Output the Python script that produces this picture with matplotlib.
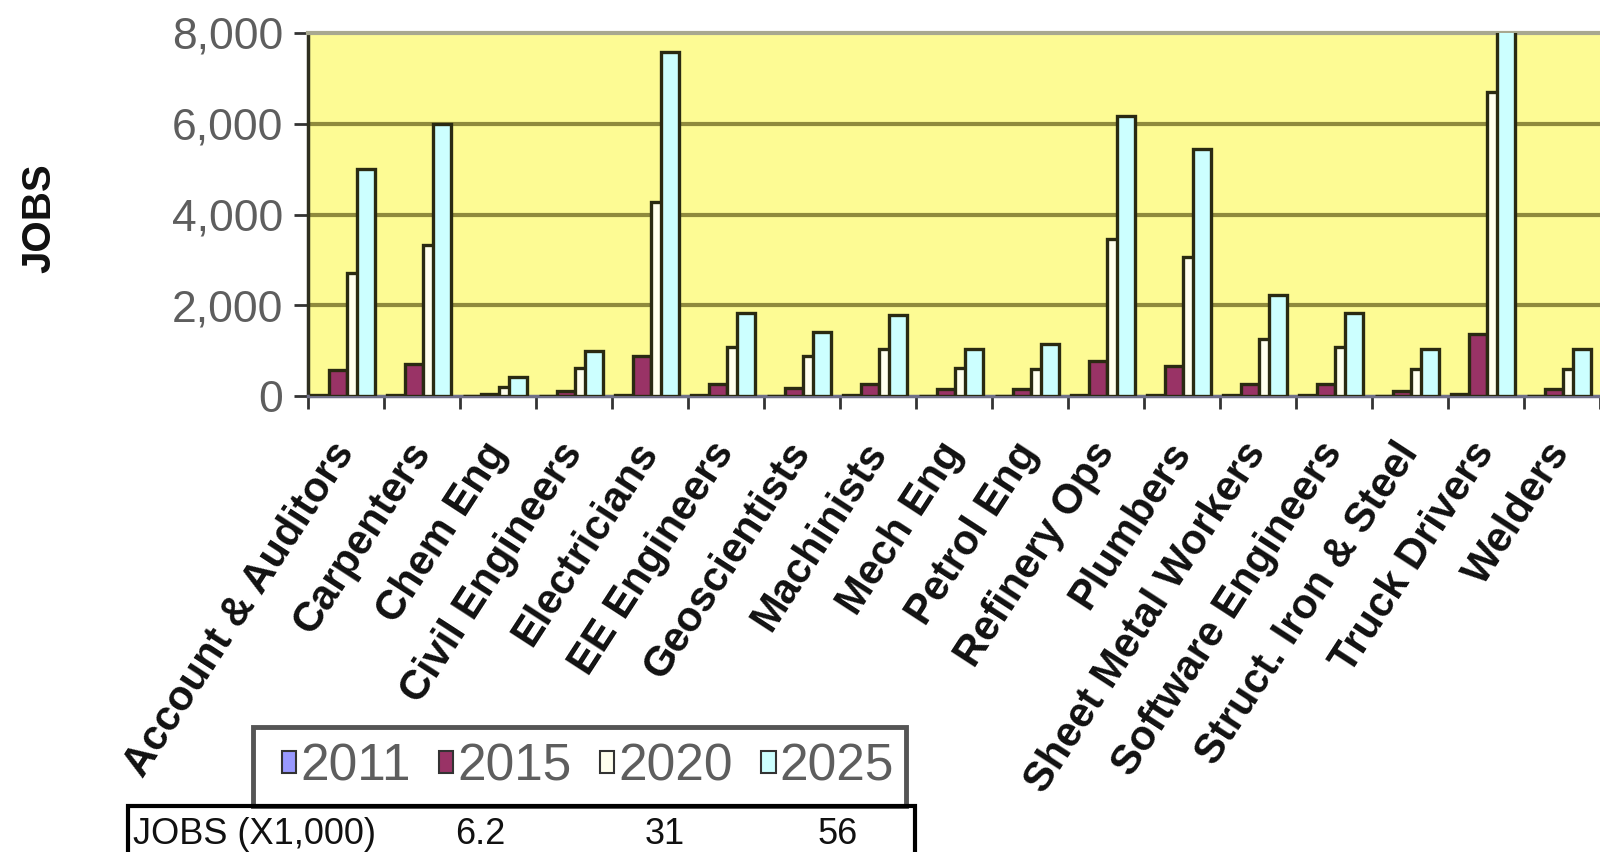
import numpy as np
import matplotlib
matplotlib.use('Agg')
import matplotlib.pyplot as plt
from matplotlib.patches import Patch, Rectangle

plt.rcParams['font.family'] = ['Liberation Sans', 'DejaVu Sans']

categories = ['Account & Auditors', 'Carpenters', 'Chem Eng', 'Civil Engineers',
              'Electricians', 'EE Engineers', 'Geoscientists', 'Machinists',
              'Mech Eng', 'Petrol Eng', 'Refinery Ops', 'Plumbers',
              'Sheet Metal Workers', 'Software Engineers', 'Struct. Iron & Steel',
              'Truck Drivers', 'Welders']
jobs_2011 = [20, 25, 10, 10, 30, 15, 10, 15, 10, 10, 25, 20, 15, 15, 10, 40, 10]
jobs_2015 = [580, 700, 50, 110, 880, 260, 180, 260, 150, 150, 770, 660, 260, 260, 110, 1370, 150]
jobs_2020 = [2720, 3320, 200, 620, 4270, 1070, 880, 1040, 620, 600, 3470, 3060, 1260, 1070, 600, 6700, 600]
jobs_2025 = [5010, 6000, 410, 1000, 7580, 1840, 1400, 1780, 1040, 1150, 6160, 5450, 2220, 1820, 1040, 11600, 1040]
years = ['2011', '2015', '2020', '2025']
colors = ['#9999ff', '#993366', '#ffffee', '#ccffff']
yticks = [0, 2000, 4000, 6000, 8000]

table_label = 'JOBS (X1,000)'
table_values = ['6.2', '31', '56']

fig = plt.figure(figsize=(16, 8.52), dpi=100)
ax = fig.add_axes([308 / 1600, 1 - 396 / 852, 1 - 308 / 1600, (396 - 33) / 852])
ax.set_facecolor('#fdfb94')

x = np.arange(len(categories))
w = 0.235
offsets = [0.16, 0.395, 0.63, 0.76]
series = [jobs_2011, jobs_2015, jobs_2020, jobs_2025]
for i, (vals, col, off) in enumerate(zip(series, colors, offsets)):
    ax.bar(x + off, vals, width=w, align='center', color=col,
           edgecolor='#2a2a12', linewidth=2.4, zorder=3 + i)

ax.set_xlim(0, len(categories))
ax.set_ylim(0, 8000)
ax.set_yticks(yticks)
ax.set_yticklabels([f'{v:,}' for v in yticks], fontsize=32, color='#5e5e5e')
ax.tick_params(axis='y', length=10, width=2, color='#333333', pad=8)
for v in yticks[1:-1]:
    ax.axhline(v, color='#8f8a3c', linewidth=3, zorder=1)

ax.set_xticks(x + 0.5)
ax.set_xticklabels(categories, rotation=57, ha='right', va='center',
                   rotation_mode='anchor', fontsize=30, fontweight='bold', color='#111111')
ax.tick_params(axis='x', length=0, pad=36)
ax.set_xticks(np.arange(len(categories) + 1), minor=True)
ax.tick_params(axis='x', which='minor', length=9, width=2, color='#333333')

ax.spines['left'].set_color('#2f2f1f')
ax.spines['left'].set_linewidth(2.5)
ax.spines['bottom'].set_color('#707088')
ax.spines['bottom'].set_linewidth(2.5)
ax.spines['top'].set_color('#a8a890')
ax.spines['top'].set_linewidth(3)
ax.spines['right'].set_visible(False)

fig.text(39 / 1600, 1 - 218 / 852, 'JOBS', rotation=90, ha='center', va='center',
         fontsize=29, fontweight='bold', color='#111111')

# legend box
fig.patches.append(Rectangle((253 / 1600, 1 - 806 / 852), (906 - 253) / 1600, 79 / 852,
                             transform=fig.transFigure, facecolor='white',
                             edgecolor='#555555', linewidth=3.5))
handles = [Patch(facecolor=c, edgecolor='#333333', linewidth=1.5) for c in colors]
leg = fig.legend(handles, years, loc='center', ncol=4,
                 bbox_to_anchor=(588 / 1600, 1 - 767 / 852),
                 fontsize=37, handlelength=0.28, handleheight=0.28,
                 handletextpad=0.08, columnspacing=0.55, borderpad=0.2,
                 frameon=False, labelcolor='#5e5e5e')

# data table row under the legend
fig.patches.append(Rectangle((128 / 1600, -0.05), (915 - 128) / 1600, 1 - 806 / 852 + 0.05,
                             transform=fig.transFigure, fill=False, edgecolor='black',
                             linewidth=3, clip_on=False))
fig.text(133 / 1600, 1 - 834 / 852, table_label, ha='left', va='center',
         fontsize=26, color='#111111')
for xv, val in zip([480, 665, 838], table_values):
    fig.text(xv / 1600, 1 - 834 / 852, val, ha='center', va='center',
             fontsize=26, color='#111111')

fig.savefig('out.png', dpi=100, facecolor='white')
